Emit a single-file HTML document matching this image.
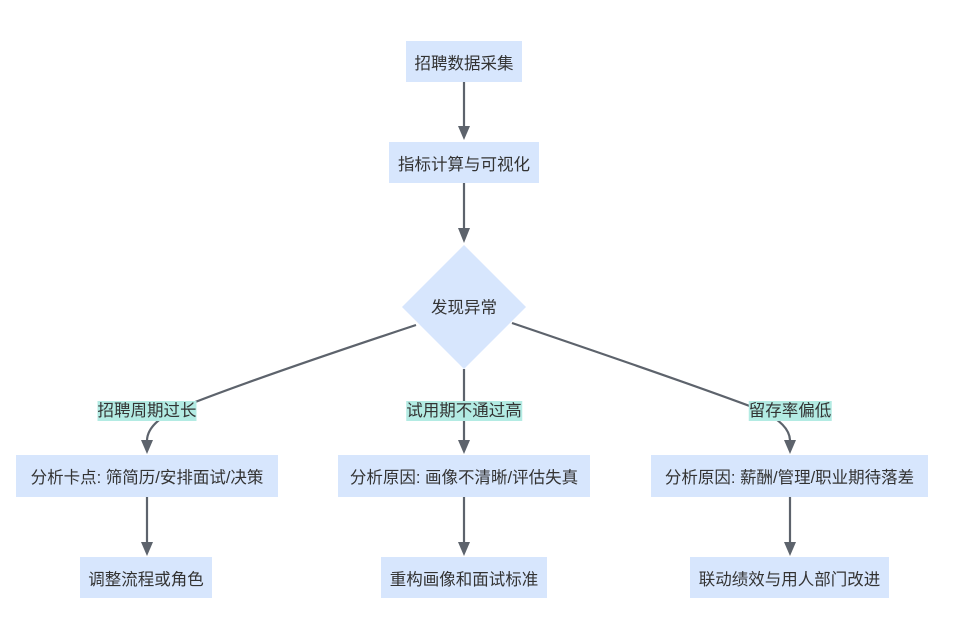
<!DOCTYPE html>
<html><head><meta charset="utf-8"><style>
body{margin:0;background:#fff;width:960px;height:620px;overflow:hidden;font-family:"Liberation Sans","Noto Sans CJK SC",sans-serif;}
.b{position:absolute;background:#d7e6fd;color:#333;font-size:16.5px;display:flex;align-items:center;justify-content:center;white-space:nowrap;}
.l{position:absolute;background:#b3ebe3;color:#333;font-size:16.5px;line-height:20px;white-space:nowrap;transform:translateX(-50%);}
</style></head><body>
<svg width="960" height="620" style="position:absolute;left:0;top:0">
<g stroke="#5d636c" stroke-width="2.2" fill="none">
<path d="M464 82 V126"/><path d="M458 126 L470 126 L464 140 Z" fill="#5d636c" stroke="none"/>
<path d="M464 183 V228"/><path d="M458 228 L470 228 L464 243 Z" fill="#5d636c" stroke="none"/>
<path d="M416 325 Q250 380 180 408 Q148 422 147 440"/><path d="M141 440 L153 440 L147 454 Z" fill="#5d636c" stroke="none"/>
<path d="M464 369 V440"/><path d="M458 440 L470 440 L464 454 Z" fill="#5d636c" stroke="none"/>
<path d="M512 323 Q680 380 755 408 Q789 422 790 440"/><path d="M784 440 L796 440 L790 454 Z" fill="#5d636c" stroke="none"/>
<path d="M147 497 V542"/><path d="M141 542 L153 542 L147 556 Z" fill="#5d636c" stroke="none"/>
<path d="M464 497 V542"/><path d="M458 542 L470 542 L464 556 Z" fill="#5d636c" stroke="none"/>
<path d="M790 497 V542"/><path d="M784 542 L796 542 L790 556 Z" fill="#5d636c" stroke="none"/>
</g>
<polygon points="464,245 526,307 464,369 402,307" fill="#d7e6fd"/>
<text x="464" y="313" text-anchor="middle" font-size="16.5" fill="#333" font-family="Liberation Sans, Noto Sans CJK SC, sans-serif">发现异常</text>
</svg>
<div class="b" style="left:406px;top:41px;width:116px;height:41px">招聘数据采集</div>
<div class="b" style="left:389px;top:142px;width:150px;height:41px">指标计算与可视化</div>
<div class="l" style="left:147px;top:401px">招聘周期过长</div>
<div class="l" style="left:464px;top:401px">试用期不通过高</div>
<div class="l" style="left:790px;top:401px">留存率偏低</div>
<div class="b" style="left:16px;top:455px;width:262px;height:42px">分析卡点: 筛简历/安排面试/决策</div>
<div class="b" style="left:338px;top:455px;width:252px;height:42px">分析原因: 画像不清晰/评估失真</div>
<div class="b" style="left:651px;top:455px;width:277px;height:42px">分析原因: 薪酬/管理/职业期待落差</div>
<div class="b" style="left:80px;top:557px;width:132px;height:41px">调整流程或角色</div>
<div class="b" style="left:381px;top:557px;width:166px;height:41px">重构画像和面试标准</div>
<div class="b" style="left:690px;top:557px;width:199px;height:41px">联动绩效与用人部门改进</div>
</body></html>
